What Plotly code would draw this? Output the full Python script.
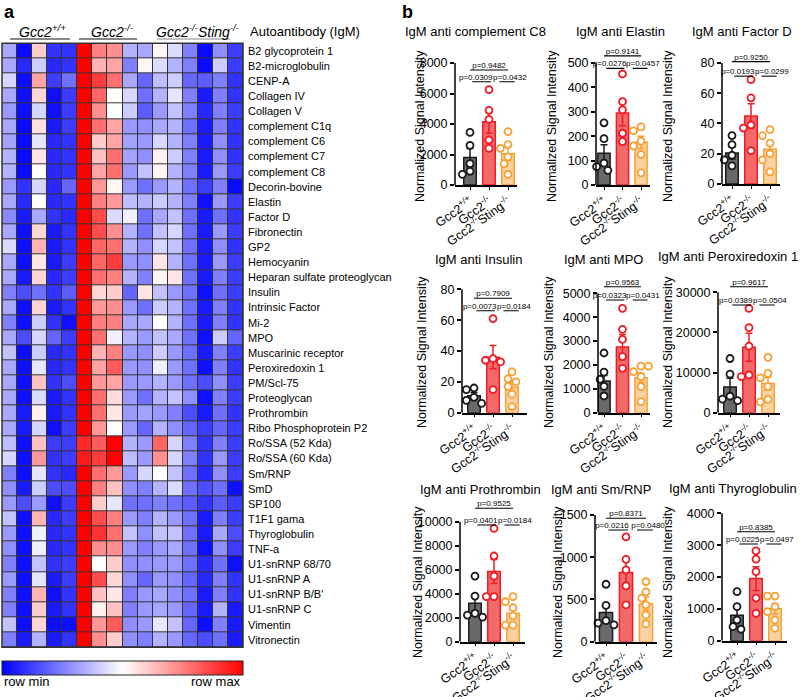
import numpy as np
import plotly.graph_objects as go

W, H = 800, 697
FONT = "Arial, 'Liberation Sans', Helvetica, sans-serif"

# ---------------- DATA: panel a heatmap ----------------
antigens = ["B2 glycoprotein 1", "B2-microglobulin", "CENP-A", "Collagen IV", "Collagen V",
            "complement C1q", "complement C6", "complement C7", "complement C8", "Decorin-bovine",
            "Elastin", "Factor D", "Fibronectin", "GP2", "Hemocyanin",
            "Heparan sulfate proteoglycan", "Insulin", "Intrinsic Factor", "Mi-2", "MPO",
            "Muscarinic receptor", "Peroxiredoxin 1", "PM/Scl-75", "Proteoglycan", "Prothrombin",
            "Ribo Phosphoprotein P2", "Ro/SSA (52 Kda)", "Ro/SSA (60 Kda)", "Sm/RNP", "SmD",
            "SP100", "T1F1 gama", "Thyroglobulin", "TNF-a", "U1-snRNP 68/70",
            "U1-snRNP A", "U1-snRNP B/B'", "U1-snRNP C", "Vimentin", "Vitronectin"]
samples = list(range(16))
heat = [
    [0.33,0.02,0.60,0.10,0.10,1.00,0.75,0.72,0.35,0.33,0.52,0.43,0.25,0.02,0.28,0.12],
    [0.33,0.08,0.40,0.08,0.10,1.00,0.65,0.68,0.25,0.52,0.43,0.35,0.25,0.02,0.40,0.12],
    [0.42,0.03,0.68,0.12,0.22,1.00,0.88,0.78,0.33,0.20,0.37,0.40,0.20,0.18,0.25,0.10],
    [0.33,0.03,0.58,0.03,0.12,1.00,0.80,0.50,0.42,0.22,0.35,0.45,0.25,0.05,0.25,0.10],
    [0.30,0.03,0.42,0.03,0.12,1.00,0.72,0.50,0.40,0.18,0.30,0.38,0.25,0.08,0.25,0.12],
    [0.33,0.02,0.56,0.05,0.12,1.00,0.78,0.68,0.30,0.28,0.33,0.35,0.22,0.05,0.25,0.10],
    [0.32,0.02,0.45,0.08,0.10,1.00,0.60,0.68,0.32,0.30,0.42,0.35,0.25,0.05,0.28,0.10],
    [0.35,0.02,0.55,0.08,0.10,1.00,0.62,0.78,0.32,0.28,0.53,0.40,0.25,0.05,0.28,0.10],
    [0.35,0.02,0.50,0.08,0.10,1.00,0.68,0.78,0.30,0.38,0.52,0.35,0.25,0.05,0.30,0.12],
    [0.30,0.10,0.42,0.08,0.20,1.00,0.70,0.52,0.30,0.22,0.30,0.35,0.22,0.12,0.25,0.02],
    [0.33,0.08,0.50,0.08,0.10,1.00,0.75,0.70,0.37,0.35,0.40,0.35,0.25,0.03,0.30,0.12],
    [0.27,0.05,0.33,0.10,0.08,1.00,0.85,0.43,0.47,0.22,0.33,0.38,0.22,0.05,0.22,0.10],
    [0.33,0.03,0.58,0.05,0.10,1.00,0.85,0.72,0.35,0.22,0.38,0.42,0.22,0.05,0.30,0.12],
    [0.43,0.03,0.65,0.05,0.10,1.00,0.80,0.78,0.35,0.28,0.42,0.38,0.22,0.05,0.28,0.10],
    [0.33,0.03,0.55,0.05,0.12,1.00,0.80,0.88,0.30,0.28,0.55,0.35,0.22,0.05,0.30,0.12],
    [0.33,0.05,0.58,0.08,0.12,1.00,0.78,0.75,0.35,0.25,0.52,0.55,0.22,0.05,0.25,0.12],
    [0.25,0.15,0.22,0.10,0.18,1.00,0.58,0.60,0.20,0.55,0.38,0.30,0.22,0.03,0.22,0.12],
    [0.33,0.03,0.58,0.05,0.10,1.00,0.70,0.72,0.30,0.22,0.40,0.35,0.22,0.05,0.25,0.10],
    [0.25,0.03,0.40,0.10,0.03,1.00,0.75,0.75,0.33,0.33,0.50,0.35,0.22,0.05,0.25,0.10],
    [0.33,0.15,0.42,0.20,0.12,1.00,0.78,0.47,0.35,0.30,0.38,0.33,0.22,0.03,0.40,0.20],
    [0.38,0.03,0.40,0.08,0.10,1.00,0.65,0.75,0.30,0.28,0.40,0.30,0.22,0.05,0.25,0.12],
    [0.33,0.03,0.45,0.08,0.10,1.00,0.68,0.82,0.30,0.28,0.47,0.30,0.22,0.03,0.25,0.10],
    [0.33,0.03,0.62,0.10,0.15,1.00,0.70,0.68,0.30,0.30,0.35,0.30,0.22,0.15,0.28,0.12],
    [0.33,0.03,0.43,0.05,0.10,1.00,0.78,0.57,0.30,0.22,0.35,0.38,0.28,0.03,0.25,0.12],
    [0.33,0.05,0.53,0.05,0.10,1.00,0.78,0.55,0.30,0.32,0.30,0.25,0.15,0.05,0.22,0.10],
    [0.33,0.05,0.42,0.03,0.12,1.00,0.70,0.50,0.30,0.20,0.35,0.28,0.20,0.12,0.20,0.12],
    [0.37,0.03,0.62,0.12,0.12,0.92,0.82,1.00,0.35,0.30,0.80,0.42,0.25,0.10,0.25,0.12],
    [0.42,0.03,0.70,0.10,0.12,0.95,0.88,1.00,0.37,0.30,0.72,0.42,0.25,0.10,0.30,0.12],
    [0.25,0.03,0.45,0.10,0.08,1.00,0.78,0.70,0.30,0.42,0.50,0.38,0.22,0.08,0.28,0.12],
    [0.28,0.05,0.40,0.15,0.15,1.00,0.75,0.62,0.28,0.25,0.35,0.43,0.22,0.15,0.22,0.03],
    [0.30,0.15,0.30,0.03,0.12,1.00,0.60,0.45,0.22,0.22,0.25,0.22,0.18,0.10,0.18,0.12],
    [0.38,0.03,0.65,0.08,0.12,1.00,0.85,0.75,0.30,0.25,0.35,0.30,0.22,0.05,0.25,0.12],
    [0.30,0.03,0.47,0.08,0.10,1.00,0.90,0.78,0.38,0.28,0.38,0.38,0.22,0.05,0.33,0.15],
    [0.28,0.03,0.47,0.08,0.10,1.00,0.72,0.72,0.30,0.25,0.30,0.33,0.22,0.03,0.28,0.12],
    [0.25,0.03,0.38,0.10,0.12,1.00,0.50,0.60,0.28,0.28,0.30,0.30,0.22,0.08,0.22,0.03],
    [0.30,0.03,0.45,0.05,0.12,1.00,0.85,0.58,0.28,0.20,0.30,0.28,0.20,0.08,0.25,0.10],
    [0.25,0.03,0.65,0.03,0.10,1.00,0.62,0.55,0.25,0.30,0.33,0.28,0.22,0.05,0.25,0.10],
    [0.25,0.03,0.60,0.05,0.10,1.00,0.53,0.62,0.25,0.30,0.33,0.30,0.20,0.05,0.35,0.05],
    [0.38,0.03,0.58,0.03,0.03,1.00,0.70,0.82,0.28,0.30,0.45,0.38,0.20,0.03,0.25,0.05],
    [0.25,0.05,0.35,0.05,0.10,1.00,0.72,0.60,0.28,0.25,0.35,0.30,0.20,0.15,0.22,0.05],
]
heat_groups = ["<i>Gcc2</i><sup><i>+/+</i></sup>", "<i>Gcc2</i><sup><i>-/-</i></sup>",
               "<i>Gcc2</i><sup><i>-/-</i></sup><i>Sting</i><sup><i>-/-</i></sup>"]

# ---------------- DATA: panel b bar charts ----------------
group_ticks = ["Gcc2<sup>+/+</sup>", "Gcc2<sup>-/-</sup>", "Gcc2<sup>-/-</sup>Sting<sup>-/-</sup>"]
chart_titles = ["IgM anti complement C8", "IgM anti Elastin", "IgM anti Factor D",
                "IgM anti Insulin", "IgM anti MPO", "IgM anti Peroxiredoxin 1",
                "IgM anti Prothrombin", "IgM anti Sm/RNP", "IgM anti Thyroglobulin"]
y_max = [8000, 500, 80, 80, 5000, 30000, 10000, 1500, 4000]
y_step = [2000, 100, 20, 20, 1000, 10000, 2000, 500, 1000]

pts_wt = [[3450, 2600, 1400, 900, 700], [255, 190, 90, 75, 60], [32, 26, 19, 16, 12],
          [16, 15, 10, 8, 6], [2500, 1700, 1400, 1100, 700], [13500, 9600, 4100, 3400, 3000],
          [5470, 3800, 2360, 2220, 2050], [680, 430, 250, 220, 200], [1540, 1070, 650, 440, 360]]
pts_ko = [[6250, 4900, 4300, 2950, 2400], [455, 342, 308, 212, 178], [69, 57, 39, 37, 22],
          [61, 35, 34, 33, 15], [4370, 3490, 3070, 2350, 1860], [26000, 21200, 16600, 9400, 9000],
          [9450, 7140, 5470, 3750, 3750], [1240, 975, 850, 660, 435], [2820, 2560, 2170, 1340, 860]]
pts_dko = [[3500, 2650, 2400, 1850, 1400, 700], [238, 222, 180, 160, 125, 50],
           [36, 32, 27, 20, 16, 8], [26.5, 22, 20, 17, 12, 4],
           [1950, 1950, 1720, 1510, 1090, 460], [13800, 9800, 8700, 6500, 3300, 2700],
           [3750, 3330, 2830, 2160, 1380, 1380], [710, 590, 515, 435, 315, 210],
           [1400, 1400, 1070, 910, 650, 390]]
bar_means = [[1800, 4150, 2050], [130, 295, 175], [20.5, 45, 23], [11, 36, 16.5],
             [1330, 2750, 1460], [6400, 16300, 7300], [3200, 5850, 2350], [345, 820, 450],
             [800, 1950, 1000]]
bar_sems = [[600, 750, 450], [35, 52, 25], [4, 8, 4], [2, 7.5, 3.2], [230, 520, 200],
            [2200, 3500, 1500], [650, 1000, 370], [90, 140, 75], [230, 370, 160]]
p_values = [["0.0309", "0.0432", "0.9482"], ["0.0276", "0.0457", "0.9141"],
            ["0.0193", "0.0299", "0.9250"], ["0.0073", "0.0184", "0.7909"],
            ["0.0323", "0.0431", "0.9563"], ["0.0389", "0.0504", "0.9617"],
            ["0.0401", "0.0184", "0.9525"], ["0.0216", "0.0480", "0.8371"],
            ["0.0225", "0.0497", "0.8385"]]
bracket_low = [6770, 478, 71.3, 66.1, 4720, 26840, 9725, 1322, 3036]
bracket_top = [7540, 529, 80.9, 74.2, 5276, 31400, 11120, 1461, 3422]

# ---------------- STYLE / GEOMETRY (pixels) ----------------
# axis_x, bar0_x, bar2_x, right_x, y0_px, ymax_px
geom = [(455, 470, 508, 517, 185, 63), (596, 604, 641, 650, 185, 63), (722, 732, 770, 780, 184, 63),
        (462, 474, 512, 527, 412.7, 289.3), (598, 604, 641, 650, 412.7, 293.3), (718, 730, 768, 780, 412.7, 292.3),
        (460, 475, 513, 525, 641.7, 521.7), (595, 606, 646, 657, 641.7, 515), (722, 737, 775, 787, 640.7, 513.3)]
title_pos = [(475, 32), (620, 32), (742, 32), (478, 259), (603, 259), (728, 257),
             (480, 489), (601, 489), (733, 488)]
ytitle_pos = [(420, 126), (552, 126), (668, 126), (422, 352), (549, 352), (668, 352),
              (418, 582), (558, 582), (668, 582)]
fills = ["#6b6b6b", "#f36b6b", "#fdd3a3"]
hatch = ["#555555", "#e85555", "#f7bf80"]
edges = ["#1a1a1a", "#ee1c25", "#f7a033"]

fig = go.Figure()

# ----- heatmap -----
fig.add_trace(go.Heatmap(
    z=heat, x=samples, y=antigens, zmin=0, zmax=1,
    colorscale=[[0, "#0000ff"], [0.5, "#ffffff"], [1, "#ff0000"]],
    xgap=1, ygap=1, hoverinfo="skip",
    colorbar=dict(orientation="h", x=2 / W, xanchor="left", y=1 - 661 / H, yanchor="top",
                  len=241, lenmode="pixels", thickness=14, thicknessmode="pixels",
                  outlinewidth=1, outlinecolor="#222", showticklabels=False, ticks="",
                  xpad=0, ypad=0),
    xaxis="x", yaxis="y"))

layout = dict(
    width=W, height=H, margin=dict(l=0, r=0, t=0, b=0, autoexpand=False),
    paper_bgcolor="white", plot_bgcolor="rgba(0,0,0,0)", showlegend=False,
    font=dict(family=FONT, color="black"),
    xaxis=dict(domain=[2 / W, 243 / W], range=[-0.5, 15.5], visible=False, fixedrange=True),
    yaxis=dict(domain=[1 - 647.3 / H, 1 - 43.3 / H], autorange="reversed", side="right",
               tickfont=dict(size=11, family=FONT), ticks="", showgrid=False, zeroline=False,
               showline=False, anchor="x", ticklabelstandoff=4),
)
shapes = [
    dict(type="rect", xref="x domain", yref="y domain", x0=0, x1=1, y0=0, y1=1,
         fillcolor="#333333", line=dict(width=0), layer="below"),
    dict(type="rect", xref="x domain", yref="y domain", x0=0, x1=1, y0=0, y1=1,
         line=dict(color="#333333", width=1.5), layer="above"),
]
annotations = []

# heatmap header
for (cx, x0, x1, col), lab in zip([(42, 10, 70, "#111"), (113, 79, 137, "#111"), (198, 157, 230, "#888")],
                                  heat_groups):
    annotations.append(dict(text=lab, x=cx / W, y=1 - 31 / H, xref="paper", yref="paper",
                            showarrow=False, xanchor="center", yanchor="middle",
                            font=dict(size=14, family=FONT)))
    shapes.append(dict(type="line", xref="paper", yref="paper", x0=x0 / W, x1=x1 / W,
                       y0=1 - 39 / H, y1=1 - 39 / H, line=dict(color=col, width=1.2)))
annotations.append(dict(text="Autoantibody (IgM)", x=248 / W, y=1 - 32 / H, xref="paper", yref="paper",
                        showarrow=False, xanchor="left", yanchor="middle", font=dict(size=13, family=FONT)))
annotations.append(dict(text="row min", x=2 / W, y=1 - 681 / H, xref="paper", yref="paper",
                        showarrow=False, xanchor="left", yanchor="middle", font=dict(size=13, family=FONT)))
annotations.append(dict(text="row max", x=243 / W, y=1 - 681 / H, xref="paper", yref="paper",
                        showarrow=False, xanchor="right", yanchor="middle", font=dict(size=13, family=FONT)))
annotations.append(dict(text="<b>a</b>", x=2 / W, y=1 - 0 / H, xref="paper", yref="paper",
                        showarrow=False, xanchor="left", yanchor="top", font=dict(size=18, family=FONT)))
annotations.append(dict(text="<b>b</b>", x=400 / W, y=1 - 0 / H, xref="paper", yref="paper",
                        showarrow=False, xanchor="left", yanchor="top", font=dict(size=18, family=FONT)))


def swarm(vals, px_per_unit, px_per_cat, diam=7.5):
    cands = [0, -0.21, 0.21, -0.4, 0.4]
    placed = []
    offs = []
    for v in vals:
        chosen = cands[-1]
        for c in cands:
            ok = True
            for (pv, pc) in placed:
                dx = (c - pc) * px_per_cat
                dy = (v - pv) * px_per_unit
                if dx * dx + dy * dy < diam * diam:
                    ok = False
                    break
            if ok:
                chosen = c
                break
        placed.append((v, chosen))
        offs.append(chosen)
    return offs


for k in range(9):
    n = k + 2
    ax, b0, b2, rx, y0px, ytpx = geom[k]
    s = (b2 - b0) / 2.0
    xr = [-(b0 - ax) / s, 2 + (rx - b2) / s]
    ymax = y_max[k]
    rtop = max(bracket_top[k] * 1.12, ymax * 1.06)
    ppu = (y0px - ytpx) / ymax
    top_px = y0px - ppu * rtop
    xa = "x%d" % n
    ya = "y%d" % n
    tv = list(range(0, ymax + 1, y_step[k]))
    layout["xaxis%d" % n] = dict(
        domain=[ax / W, rx / W], range=xr, anchor=ya, tickvals=[0, 1, 2], ticktext=group_ticks,
        tickangle=-35, tickfont=dict(size=12.5, family=FONT), showline=True, linecolor="black",
        linewidth=1.5, ticks="outside", ticklen=3, tickwidth=1.2, tickcolor="black",
        showgrid=False, zeroline=False, fixedrange=True)
    layout["yaxis%d" % n] = dict(
        domain=[1 - y0px / H, 1 - top_px / H], range=[0, rtop], anchor=xa,
        tickmode="array", tickvals=tv, ticktext=[str(v) for v in tv],
        tickfont=dict(size=12.5, family=FONT), showline=False, ticks="outside", ticklen=4,
        tickwidth=1.5, tickcolor="black", showgrid=False, zeroline=False, fixedrange=True)
    shapes.append(dict(type="line", xref=xa + " domain", yref=ya, x0=0, x1=0, y0=0, y1=ymax,
                       line=dict(color="black", width=1.5)))

    groups_pts = [pts_wt[k], pts_ko[k], pts_dko[k]]
    for g in range(3):
        fig.add_trace(go.Bar(
            x=[g], y=[bar_means[k][g]], width=0.66,
            marker=dict(color=fills[g], line=dict(color=edges[g], width=1.5),
                        pattern=dict(shape="x", size=4, solidity=0.2, fgcolor=hatch[g],
                                     bgcolor=fills[g], fillmode="overlay")),
            error_y=dict(type="data", array=[bar_sems[k][g]], color=edges[g], thickness=1.5, width=3.5),
            xaxis=xa, yaxis=ya, hoverinfo="skip"))
    for g in range(3):
        vals = groups_pts[g]
        offs = swarm(vals, ppu, s)
        fig.add_trace(go.Scatter(
            x=[g + o for o in offs], y=vals, mode="markers", cliponaxis=False,
            marker=dict(symbol="circle", size=7, color="white", line=dict(color=edges[g], width=1.8)),
            xaxis=xa, yaxis=ya, hoverinfo="skip"))
    lo, hi = bracket_low[k], bracket_top[k]
    fig.add_trace(go.Scatter(
        x=[0.12, 1.1, None, 1.55, 2.35, None, 0, 2],
        y=[lo, lo, None, lo, lo, None, hi, hi],
        mode="lines", line=dict(color="black", width=1.1), cliponaxis=False,
        xaxis=xa, yaxis=ya, hoverinfo="skip"))
    fig.add_trace(go.Scatter(
        x=[0.3, 2.1, 1.0], y=[lo, lo, hi], mode="text",
        text=["p=" + p for p in p_values[k]], textposition="top center",
        textfont=dict(size=8, family=FONT, color="black"), cliponaxis=False,
        xaxis=xa, yaxis=ya, hoverinfo="skip"))

    tx, ty = title_pos[k]
    annotations.append(dict(text=chart_titles[k], x=tx / W, y=1 - ty / H, xref="paper", yref="paper",
                            showarrow=False, xanchor="center", yanchor="middle",
                            font=dict(size=13, family=FONT)))
    yx, yy = ytitle_pos[k]
    annotations.append(dict(text="Normalized Signal Intensity", x=yx / W, y=1 - yy / H,
                            xref="paper", yref="paper", showarrow=False, textangle=-90,
                            xanchor="center", yanchor="middle", font=dict(size=12.5, family=FONT)))

layout["shapes"] = shapes
layout["annotations"] = annotations
layout["barmode"] = "overlay"
fig.update_layout(**layout)
fig.write_html("out.html", config={"displayModeBar": False},
               post_script="document.body.style.margin='0';document.body.style.overflow='hidden';")
